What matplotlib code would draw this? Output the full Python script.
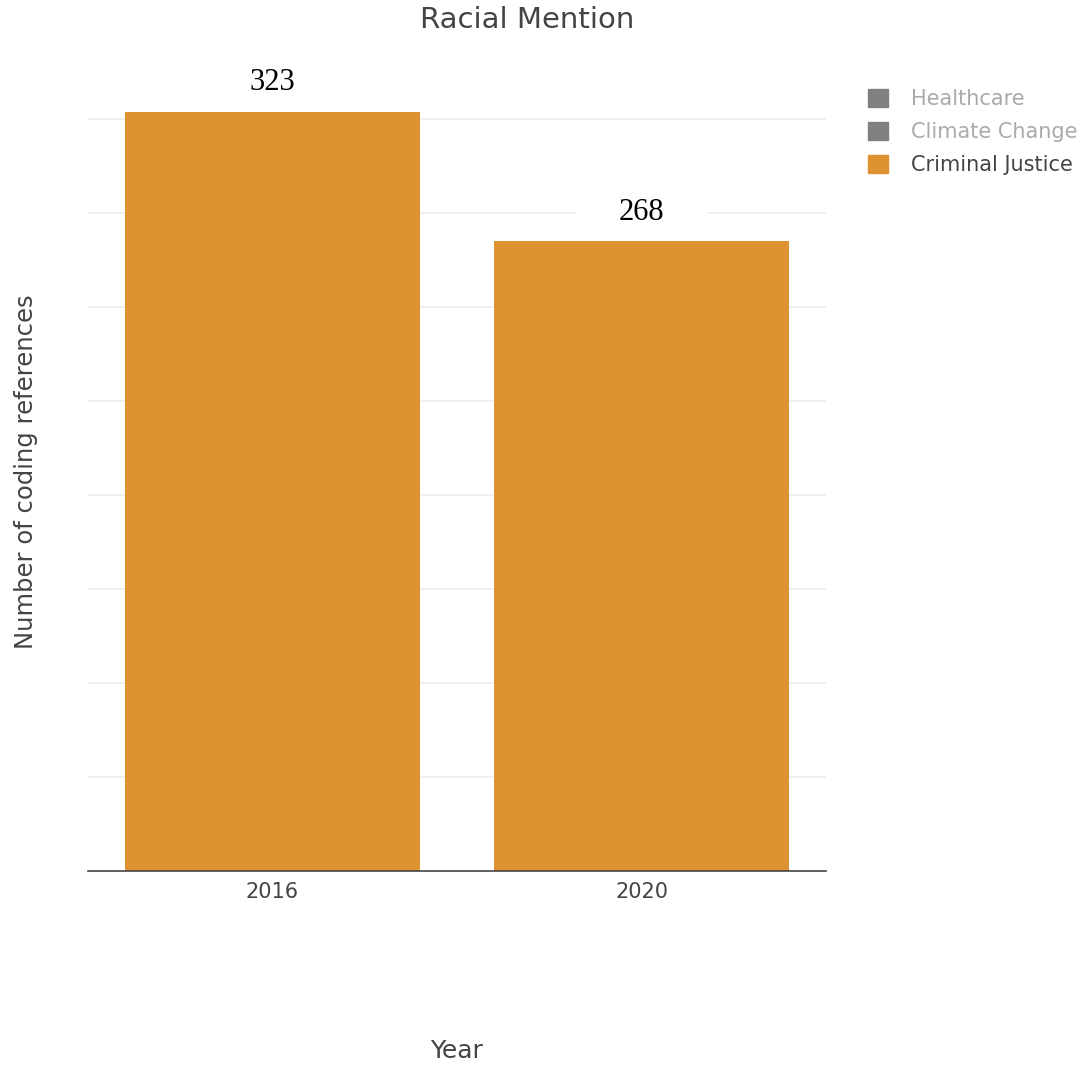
import matplotlib
matplotlib.use('Agg')
import matplotlib.pyplot as plt
from matplotlib.patches import Patch

# data
years = ['2016', '2020']
counts = [323, 268]
legend_names = ['Healthcare', 'Climate Change', 'Criminal Justice']
legend_visible = [False, False, True]

bar_color = '#DE9231'
text_color = '#444444'

plt.rcParams['font.family'] = ['DejaVu Sans']

fig = plt.figure(figsize=(10.86, 10.65), dpi=100)
ax = fig.add_axes([0.081, 0.1822, 0.6796, 0.7502])

x = range(len(years))
ax.bar(x, counts, width=0.8, color=bar_color, zorder=2)
ax.set_xlim(-0.5, len(years) - 0.5)
ax.set_ylim(0, 340)
ax.set_xticks(list(x))
ax.set_xticklabels(years, fontsize=15, color=text_color)
ax.tick_params(axis='x', length=0, pad=8)
ax.set_yticks(range(40, 340, 40))
ax.tick_params(axis='y', length=0, labelleft=False)
ax.grid(axis='y', color='#eeeeee', linewidth=1.2, zorder=0.5)
ax.set_axisbelow(True)
for side in ['top', 'right', 'left']:
    ax.spines[side].set_visible(False)
ax.spines['bottom'].set_color(text_color)
ax.spines['bottom'].set_linewidth(1.2)

for xi, v in zip(x, counts):
    ax.annotate(str(v), xy=(xi, v), xytext=(0, 21), textcoords='offset points',
                ha='center', va='center', fontsize=22, family='Liberation Serif',
                color='black', annotation_clip=False, clip_on=False, zorder=1.5,
                bbox=dict(boxstyle='square,pad=1.4', fc='white', ec='none'))

ax.set_ylabel('Number of coding references', fontsize=17.5, color=text_color)
ax.yaxis.set_label_coords(-0.068, 0.5)
ax.set_xlabel('Year', fontsize=18, color=text_color, va='center')
ax.xaxis.set_label_coords(0.5, -0.2253)

fig.text(527 / 1086, 1 - 20 / 1065, 'Racial Mention', ha='center', va='center',
         fontsize=21, color=text_color)

handles = [Patch(color=bar_color if vis else '#808080') for vis in legend_visible]
leg = fig.legend(handles, legend_names, loc='upper left',
                 bbox_to_anchor=(849 / 1086, 1 - 70 / 1065), frameon=False,
                 fontsize=15, handlelength=0.95, handleheight=0.95,
                 handletextpad=1.15, labelspacing=0.62)
for t, vis in zip(leg.get_texts(), legend_visible):
    t.set_color(text_color if vis else '#aaaaaa')

fig.savefig('out.png', dpi=100)
